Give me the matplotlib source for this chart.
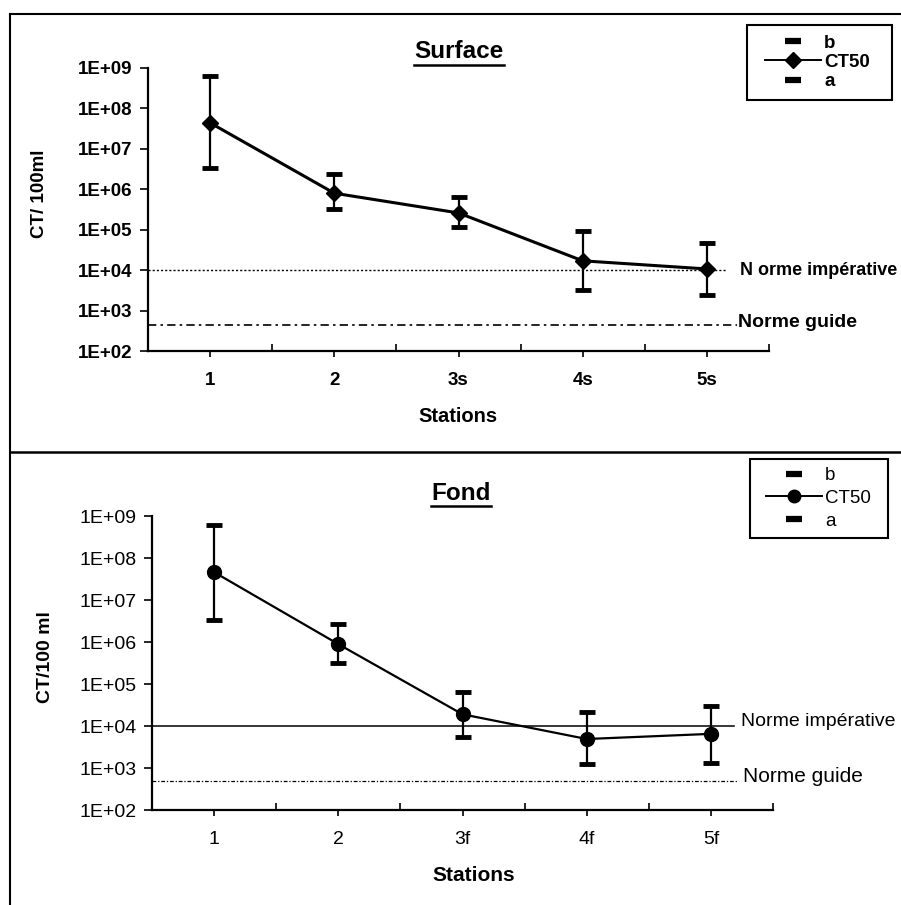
import matplotlib.pyplot as plt
from matplotlib.lines import Line2D
from matplotlib.patches import Rectangle
from matplotlib.ticker import FixedLocator, FuncFormatter, NullLocator
import numpy as np

plt.rcParams['font.family'] = ['Liberation Sans', 'DejaVu Sans']

# Data (CT/100 ml)
surf_stations = ['1', '2', '3s', '4s', '5s']
surf_ct50 = [4.4e7, 8.0e5, 2.6e5, 1.7e4, 1.07e4]
surf_b = [6.4e8, 2.4e6, 6.5e5, 9.3e4, 4.7e4]
surf_a = [3.4e6, 3.3e5, 1.2e5, 3.2e3, 2.4e3]

fond_stations = ['1', '2', '3f', '4f', '5f']
fond_ct50 = [4.6e7, 8.9e5, 1.9e4, 4.9e3, 6.5e3]
fond_b = [6.1e8, 2.7e6, 6.5e4, 2.1e4, 3.0e4]
fond_a = [3.3e6, 3.2e5, 5.5e3, 1.25e3, 1.3e3]

# Norms
surf_norme_imp = 1e4
surf_norme_guide = 430
fond_norme_imp = 1e4
fond_norme_guide = 500

fig = plt.figure(figsize=(9.01, 9.05), dpi=100)

# frame lines of the two panels (cut on the right, as in the scan)
fig.add_artist(Line2D([10/901, 10/901], [0, 1-14/905], color='black', lw=1.5))
fig.add_artist(Line2D([10/901, 1], [1-14/905, 1-14/905], color='black', lw=1.5))
fig.add_artist(Line2D([10/901, 1], [1-452/905, 1-452/905], color='black', lw=1.8))

ax1 = fig.add_axes([148/901, 1-351/905, 621/901, 283/905])
ax2 = fig.add_axes([152/901, 1-810/905, 621/901, 294/905])


def setup_axis(ax, stations, bold, fs):
    w = 'bold' if bold else 'normal'
    ax.set_yscale('log')
    ax.set_ylim(1e2, 1e9)
    ax.set_xlim(-0.5, len(stations) - 0.5)
    for s in ['top', 'right']:
        ax.spines[s].set_visible(False)
    for s in ['left', 'bottom']:
        ax.spines[s].set_linewidth(1.6)
    ax.yaxis.set_major_locator(FixedLocator([10.0**k for k in range(2, 10)]))
    ax.yaxis.set_minor_locator(NullLocator())
    ax.yaxis.set_major_formatter(FuncFormatter(lambda v, p: '1E+%02d' % int(round(np.log10(v)))))
    ax.tick_params(axis='y', direction='out', length=6, width=1.2, labelsize=fs, pad=5)
    # ticks at category boundaries, labels at centres
    ax.set_xticks(np.arange(len(stations) + 1) - 0.5)
    ax.set_xticklabels([''] * (len(stations) + 1))
    ax.set_xticks(np.arange(len(stations)), minor=True)
    ax.set_xticklabels(stations, minor=True)
    ax.tick_params(axis='x', which='major', direction='in', length=5, width=1.2)
    ax.tick_params(axis='x', which='minor', direction='out', length=4, width=1.2,
                   labelsize=fs, pad=11)
    for lab in ax.get_yticklabels() + ax.get_xticklabels(minor=True):
        lab.set_fontweight(w)


setup_axis(ax1, surf_stations, True, 13.5)
setup_axis(ax2, fond_stations, False, 14)

x1 = np.arange(len(surf_stations))
x2 = np.arange(len(fond_stations))

# norm lines
ax1.plot([-0.5, 4.16], [surf_norme_imp] * 2, color='black', lw=1.0, ls=(0, (1.5, 1.5)))
ax1.plot([-0.5, 4.24], [surf_norme_guide] * 2, color='black', lw=1.2, ls=(0, (5, 2.5, 1.5, 2.5)))
ax2.plot([-0.5, 4.19], [fond_norme_imp] * 2, color='black', lw=1.1)
ax2.plot([-0.5, 4.21], [fond_norme_guide] * 2, color='black', lw=0.9, ls=(0, (3, 1.5, 1, 1.5)))

ax1.text(4.27, surf_norme_imp, 'N orme impérative', fontsize=13, fontweight='bold',
         va='center', ha='left', clip_on=False)
ax1.text(4.25, surf_norme_guide * 1.15, 'Norme guide', fontsize=14, fontweight='bold',
         va='center', ha='left', clip_on=False)
ax2.text(4.24, fond_norme_imp * 1.25, 'Norme impérative', fontsize=14,
         va='center', ha='left', clip_on=False)
ax2.text(4.26, fond_norme_guide * 1.25, 'Norme guide', fontsize=15,
         va='center', ha='left', clip_on=False)

# CT50 with a/b as error bars
err1 = [np.array(surf_ct50) - np.array(surf_a), np.array(surf_b) - np.array(surf_ct50)]
ax1.errorbar(x1, surf_ct50, yerr=err1, fmt='none', ecolor='black', elinewidth=1.6,
             capsize=5.5, capthick=3.5, zorder=3)
ax1.plot(x1, surf_ct50, color='black', lw=2.2, marker='D', markersize=8.5, zorder=4)

err2 = [np.array(fond_ct50) - np.array(fond_a), np.array(fond_b) - np.array(fond_ct50)]
ax2.errorbar(x2, fond_ct50, yerr=err2, fmt='none', ecolor='black', elinewidth=1.6,
             capsize=5.5, capthick=3.5, zorder=3)
ax2.plot(x2, fond_ct50, color='black', lw=1.6, marker='o', markersize=10, zorder=4)

# axis labels
fig.text(40/901, 1-194/905, 'CT/ 100ml', rotation=90, fontsize=13.5, fontweight='bold',
         ha='center', va='center')
fig.text(45/901, 1-657/905, 'CT/100 ml', rotation=90, fontsize=14, fontweight='bold',
         ha='center', va='center')
fig.text(458/901, 1-416/905, 'Stations', fontsize=14.5, fontweight='bold', ha='center', va='center')
fig.text(474/901, 1-875/905, 'Stations', fontsize=15, fontweight='bold', ha='center', va='center')

# underlined titles
t1 = fig.text(459/901, 1-52/905, 'Surface', fontsize=17.5, fontweight='bold', ha='center', va='center')
t2 = fig.text(461/901, 1-493/905, 'Fond', fontsize=17.5, fontweight='bold', ha='center', va='center')
renderer = fig.canvas.get_renderer()
for t in [t1, t2]:
    bb = t.get_window_extent(renderer).transformed(fig.transFigure.inverted())
    fig.add_artist(Line2D([bb.x0, bb.x1], [bb.y0 - 0.002, bb.y0 - 0.002], color='black', lw=1.8))


# legends: frame drawn as a rectangle, entries placed inside it
def add_legend(marker, msize, box, handle_x, bold, spacing):
    x0, y0, x1, y1 = box
    fig.add_artist(Rectangle((x0/901, 1-y1/905), (x1-x0)/901, (y1-y0)/905,
                             transform=fig.transFigure, fill=False,
                             edgecolor='black', lw=1.5))
    handles = [
        Line2D([], [], color='black', ls='none', marker='_', markersize=11, markeredgewidth=4.5),
        Line2D([], [], color='black', lw=1.4, marker=marker, markersize=msize),
        Line2D([], [], color='black', ls='none', marker='_', markersize=11, markeredgewidth=4.5),
    ]
    leg = fig.legend(handles, ['b', 'CT50', 'a'], loc='center left',
                     bbox_to_anchor=(handle_x/901, 1-(y0+y1)/2/905),
                     bbox_transform=fig.transFigure, frameon=False,
                     fontsize=13.5, handlelength=3.0, handletextpad=0.15,
                     labelspacing=spacing, borderpad=0, borderaxespad=0)
    for txt in leg.get_texts():
        txt.set_fontweight('bold' if bold else 'normal')
    return leg


add_legend('D', 8, (747, 25, 892, 100), 765, True, 0.12)
add_legend('o', 9, (750, 459, 888, 538), 766, False, 0.3)

fig.savefig('out.png', dpi=100)
